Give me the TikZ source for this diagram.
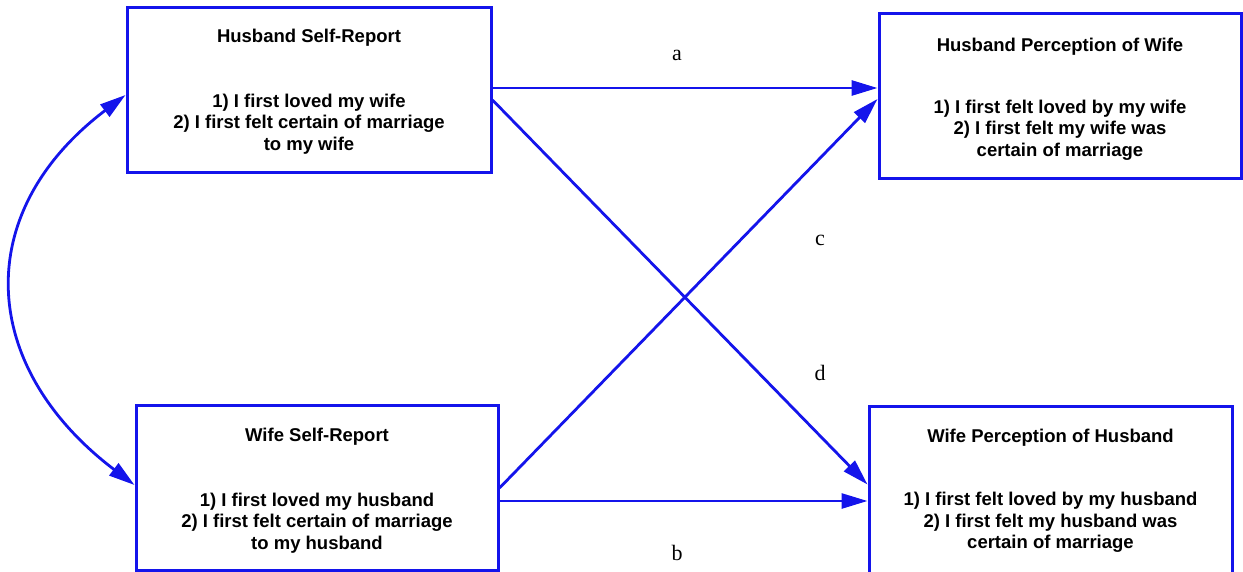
\documentclass[tikz,border=0pt]{standalone}
\usepackage{fontspec}
\setmainfont{Liberation Serif}
\newfontfamily\boxfont{Liberation Sans}
\usetikzlibrary{arrows.meta,calc}
\definecolor{lineblue}{RGB}{20,20,235}
\tikzset{
  box/.style={draw=lineblue,line width=3pt,rectangle,inner sep=0pt},
  boxtitle/.style={font=\boxfont\bfseries\fontsize{18.5}{21.5}\selectfont,inner sep=0pt,anchor=center},
  boxitems/.style={font=\boxfont\bfseries\fontsize{18.5}{21.5}\selectfont,inner sep=0pt,align=center,anchor=center},
  conn/.style={draw=lineblue,line width=2.8pt,-{Triangle[length=26pt,width=15pt]}},
  dconn/.style={draw=lineblue,line width=2.8pt,{Triangle[length=26pt,width=15pt]}-{Triangle[length=26pt,width=15pt]}},
  pathlabel/.style={font=\fontsize{22}{24}\selectfont,inner sep=0pt}
}
\begin{document}
\begin{tikzpicture}[x=1pt,y=-1pt]
\useasboundingbox (0,0) rectangle (1243,571);
% boxes
\node[box,minimum width=364pt,minimum height=165pt] (HS) at (309,89.5) {};
\node[box,minimum width=362pt,minimum height=165pt] (HP) at (1060,95.5) {};
\node[box,minimum width=362pt,minimum height=165pt] (WS) at (317,487.5) {};
\node[box,minimum width=363pt,minimum height=168pt] (WP) at (1050.5,490) {};
% texts
\node[boxtitle] (HSt) at ([yshift=-32pt]HS.north) {Husband Self-Report};
\node[boxitems] (HSi) at ([yshift=-118.5pt]HS.north) {1) I first loved my wife\\2) I first felt certain of marriage\\to my wife};
\node[boxtitle] (HPt) at ([yshift=-35pt]HP.north) {Husband Perception of Wife};
\node[boxitems] (HPi) at ([yshift=-118.5pt]HP.north) {1) I first felt loved by my wife\\2) I first felt my wife was\\certain of marriage};
\node[boxtitle] (WSt) at ([yshift=-33pt]WS.north) {Wife Self-Report};
\node[boxitems] (WSi) at ([yshift=-119.5pt]WS.north) {1) I first loved my husband\\2) I first felt certain of marriage\\to my husband};
\node[boxtitle] (WPt) at ([yshift=-33pt]WP.north) {Wife Perception of Husband};
\node[boxitems] (WPi) at ([yshift=-118pt]WP.north) {1) I first felt loved by my husband\\2) I first felt my husband was\\certain of marriage};
% connectors
\draw[conn] ([yshift=1.5pt]HS.east) -- ([yshift=1.5pt]HS.east -| HP.west);
\draw[conn] ([yshift=-10.5pt]HS.east) -- ([yshift=5.5pt]WP.west);
\draw[conn] ([yshift=-0.5pt]WS.east) -- ([yshift=-3.5pt]HP.west);
\draw[conn] ([yshift=-13.5pt]WS.east) -- ([yshift=-13.5pt]WS.east -| WP.west);
\draw[dconn] ([yshift=-5.5pt]HS.west) .. controls (-30,213) and (-21,367) .. ([yshift=2.5pt]WS.west);
% labels
\node[pathlabel] (la) at (677,55) {a};
\node[pathlabel] (lb) at (677,553) {b};
\node[pathlabel] (lc) at (820,240) {c};
\node[pathlabel] (ld) at (820,373) {d};
\end{tikzpicture}
\end{document}
